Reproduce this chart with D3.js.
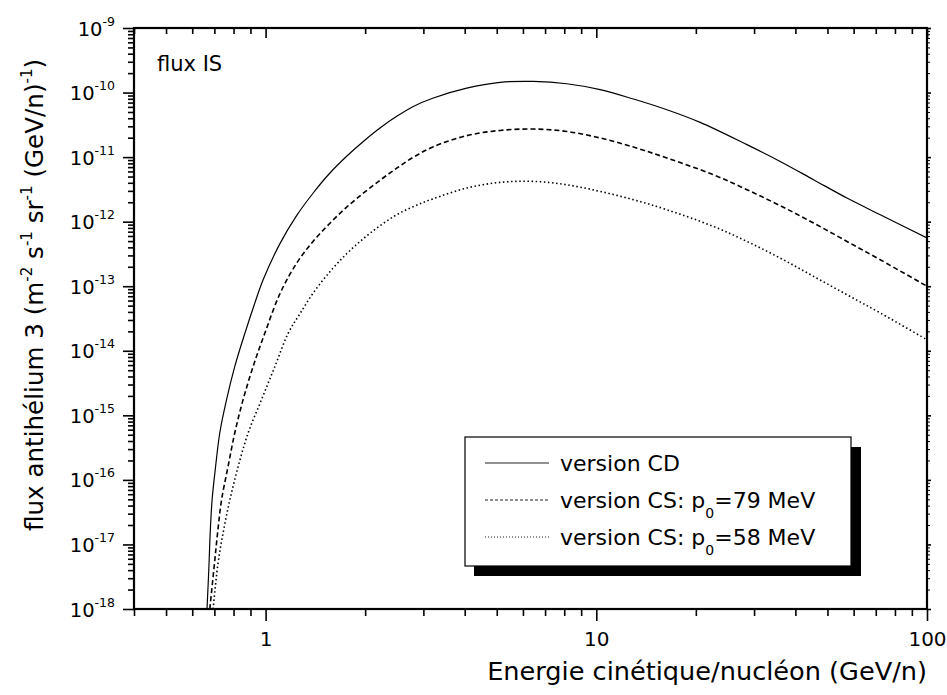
<!DOCTYPE html>
<html><head><meta charset="utf-8">
<script src="https://cdn.jsdelivr.net/npm/d3@7"></script>
<style>
body{margin:0;background:#fff}
svg{display:block}
text{font-family:"DejaVu Sans",Verdana,sans-serif;fill:#000}
</style>
</head><body>
<svg id="c" width="947" height="695"></svg>
<script>
// ---- data ----
const cdE = [0.665,0.674,0.680,0.689,0.706,0.727,0.762,0.807,0.866,0.935,0.983,1.105,1.241,1.393,1.565,1.758,1.974,2.218,2.491,2.797,3.215,4.057,5.117,6.452,8.140,10.27,12.95,16.35,20.61,28.54,35.98,45.38,57.28,72.23,100];
const cdF = [1e-18,4.56e-18,1.52e-17,4.92e-17,1.61e-16,5.37e-16,1.75e-15,5.72e-15,1.88e-14,6.18e-14,1.26e-13,4.57e-13,1.24e-12,2.78e-12,5.67e-12,1.03e-11,1.75e-11,2.83e-11,4.28e-11,6.10e-11,8.24e-11,1.17e-10,1.44e-10,1.49e-10,1.37e-10,1.11e-10,7.94e-11,5.42e-11,3.45e-11,1.56e-11,8.57e-12,4.47e-12,2.32e-12,1.28e-12,5.58e-13];

const cs79E = [0.678,0.699,0.716,0.736,0.770,0.807,0.855,0.917,0.995,1.105,1.241,1.393,1.565,1.758,1.974,2.218,2.491,2.797,3.215,4.057,5.117,6.452,8.140,10.27,12.95,16.35,22.61,28.54,35.98,45.38,57.28,72.23,100];
const cs79F = [1e-18,4.56e-18,1.52e-17,4.92e-17,1.61e-16,5.37e-16,1.75e-15,5.72e-15,1.88e-14,7.66e-14,2.27e-13,4.98e-13,9.46e-13,1.68e-12,2.76e-12,4.38e-12,6.73e-12,9.95e-12,1.45e-11,2.15e-11,2.59e-11,2.72e-11,2.50e-11,1.98e-11,1.43e-11,9.68e-12,5.33e-12,3.13e-12,1.77e-12,9.53e-13,4.94e-13,2.57e-13,1.0e-13];

const cs58E = [0.694,0.716,0.744,0.780,0.826,0.886,0.972,1.067,1.171,1.270,1.393,1.565,1.758,1.974,2.218,2.491,2.797,3.215,4.057,5.117,6.452,8.140,10.27,12.95,16.35,22.61,28.54,35.98,45.38,57.28,72.23,100];
const cs58F = [1e-18,4.56e-18,1.52e-17,4.92e-17,1.61e-16,5.37e-16,1.75e-15,5.72e-15,1.88e-14,3.75e-14,7.85e-14,1.68e-13,3.18e-13,5.44e-13,8.65e-13,1.28e-12,1.71e-12,2.27e-12,3.32e-12,4.06e-12,4.21e-12,3.73e-12,2.94e-12,2.19e-12,1.53e-12,8.43e-13,4.94e-13,2.73e-13,1.42e-13,7.38e-14,3.85e-14,1.48e-14];

const xMajorTicks = [1,10,100];
const xMinorTicks = [0.4,0.5,0.6,0.7,0.8,0.9,2,3,4,5,6,7,8,9,20,30,40,50,60,70,80,90];
const yExponents = [-18,-17,-16,-15,-14,-13,-12,-11,-10,-9];
const seriesNames = ["version CD","version CS: p","version CS: p"];
const seriesSub = ["","0","0"];
const seriesTail = ["","=79 MeV","=58 MeV"];
const xTitle = "Energie cinétique/nucléon (GeV/n)";
const yTitleParts = [["flux antihélium 3 (m",0],["-2",1],[" s",0],["-1",1],[" sr",0],["-1",1],[" (GeV/n)",0],["-1",1],[")",0]];
const annotation = "flux IS";

// ---- layout ----
const L = 134, R = 927, T = 28, B = 609;
const svg = d3.select("#c");
const x = d3.scaleLog().domain([0.4,100]).range([L,R]);
const y = d3.scaleLog().domain([1e-18,1e-9]).range([B,T]);

const yMajor = yExponents.map(e => Math.pow(10,e));
const yMinor = [];
yExponents.slice(0,-1).forEach(e => { for (let k=2;k<=9;k++) yMinor.push(k*Math.pow(10,e)); });

svg.append("defs").append("clipPath").attr("id","clip")
  .append("rect").attr("x",L).attr("y",T).attr("width",R-L).attr("height",B-T);

// ---- curves ----
const line = d3.line().x(d=>x(d[0])).y(d=>y(d[1])).curve(d3.curveCatmullRom.alpha(0.5));
const series = [
  {E:cdE, F:cdF, dash:null, w:1.2},
  {E:cs79E, F:cs79F, dash:"5,3", w:1.6},
  {E:cs58E, F:cs58F, dash:"1.5,2.6", w:1.6}
];
const gc = svg.append("g").attr("clip-path","url(#clip)");
series.forEach(s => {
  gc.append("path").datum(s.E.map((e,i)=>[e,s.F[i]]))
    .attr("d",line).attr("fill","none").attr("stroke","#000")
    .attr("stroke-width",s.w).attr("stroke-dasharray",s.dash);
});

// ---- axes ----
function style(g){ g.select(".domain").remove(); g.selectAll("line").attr("stroke","#000").attr("stroke-width",1.6); }
svg.append("g").attr("transform",`translate(0,${B})`)
  .call(d3.axisBottom(x).tickValues(xMajorTicks).tickSize(12).tickPadding(11).tickFormat(d3.format("d")))
  .call(style)
  .call(g=>g.selectAll("text").attr("font-size",20).attr("font-family","DejaVu Sans"));
svg.append("g").attr("transform",`translate(0,${B})`)
  .call(d3.axisBottom(x).tickValues(xMinorTicks).tickSize(7).tickFormat(""))
  .call(style);
svg.append("g").attr("transform",`translate(0,${T})`)
  .call(d3.axisBottom(x).tickValues(xMajorTicks).tickSize(10).tickFormat(""))
  .call(style);
svg.append("g").attr("transform",`translate(0,${T})`)
  .call(d3.axisBottom(x).tickValues(xMinorTicks).tickSize(6).tickFormat(""))
  .call(style);
const gy = svg.append("g").attr("transform",`translate(${L},0)`)
  .call(d3.axisLeft(y).tickValues(yMajor).tickSize(11).tickPadding(8).tickFormat(""))
  .call(style);
gy.selectAll(".tick text").each(function(d){
  const t = d3.select(this).attr("font-size",19.5).attr("font-family","DejaVu Sans").attr("dy","0.36em");
  t.append("tspan").text("10");
  t.append("tspan").attr("font-size",12.5).attr("dy",-10).text(Math.round(Math.log10(d)));
});
svg.append("g").attr("transform",`translate(${L},0)`)
  .call(d3.axisLeft(y).tickValues(yMinor).tickSize(6).tickFormat(""))
  .call(style);
svg.append("g").attr("transform",`translate(${R},0)`)
  .call(d3.axisRight(y).tickValues(yMajor).tickSize(4).tickFormat(""))
  .call(style);
svg.append("g").attr("transform",`translate(${R},0)`)
  .call(d3.axisRight(y).tickValues(yMinor).tickSize(3).tickFormat(""))
  .call(g=>{g.select(".domain").remove(); g.selectAll("line").attr("stroke","#000").attr("stroke-width",1);});

svg.append("rect").attr("x",L).attr("y",T).attr("width",R-L).attr("height",B-T)
  .attr("fill","none").attr("stroke","#000").attr("stroke-width",2.2);

// ---- titles ----
svg.append("text").attr("x",R).attr("y",680).attr("text-anchor","end")
  .attr("font-size",25.6).text(xTitle);

const yt = svg.append("text").attr("transform","translate(43,295) rotate(-90)")
  .attr("text-anchor","middle").attr("font-size",24.6);
let up = false;
yTitleParts.forEach(([txt,isSup])=>{
  const ts = yt.append("tspan").text(txt);
  if (isSup && !up) { ts.attr("font-size",15).attr("dy",-11); up = true; }
  else if (isSup) { ts.attr("font-size",15); }
  else if (up) { ts.attr("dy",11); up = false; }
});

svg.append("text").attr("x",157).attr("y",71).attr("font-size",21).text(annotation);

// ---- legend ----
const lg = svg.append("g");
lg.append("rect").attr("x",474).attr("y",447).attr("width",387).attr("height",129).attr("fill","#000");
lg.append("rect").attr("x",465).attr("y",437).attr("width",386).attr("height",129)
  .attr("fill","#fff").attr("stroke","#000").attr("stroke-width",1.2);
const legDash = [null,"3,2","1,2"];
const rowY = [463,500,537];
seriesNames.forEach((n,i)=>{
  lg.append("line").attr("x1",485).attr("x2",549).attr("y1",rowY[i]).attr("y2",rowY[i])
    .attr("stroke","#222").attr("stroke-width",1).attr("stroke-dasharray",legDash[i]);
  const t = lg.append("text").attr("x",560).attr("y",rowY[i]+7.5).attr("font-size",22);
  t.append("tspan").text(n);
  if (seriesSub[i]) {
    t.append("tspan").attr("font-size",14).attr("dy",10).text(seriesSub[i]);
    t.append("tspan").attr("dy",-10).text(seriesTail[i]);
  }
});
</script>
</body></html>
